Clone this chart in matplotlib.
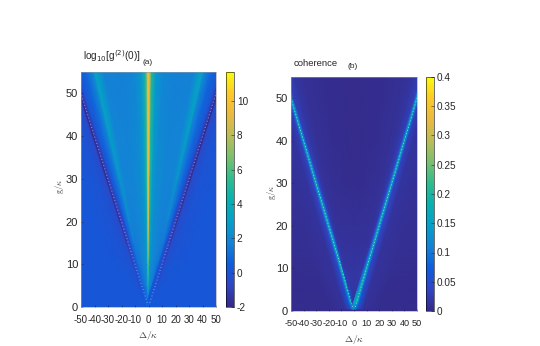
import numpy as np
import matplotlib
matplotlib.use("Agg")
import matplotlib.pyplot as plt
from matplotlib.colors import LinearSegmentedColormap

plt.rcParams['font.family'] = ['Liberation Sans', 'DejaVu Sans']
plt.rcParams['mathtext.fontset'] = 'cm'
plt.rcParams['axes.unicode_minus'] = False

W, H = 540, 346

# parula like colormap
parula = LinearSegmentedColormap.from_list("parula", [
    "#352a87", "#3145c4", "#0f5cdd", "#1481d6", "#069fc9", "#07b0b1",
    "#2fbc8f", "#7abf70", "#b9bd58", "#e9ba42", "#fdc82a", "#f9fb0e"])

# rows of the heat maps
g_rows = [0.5, 2, 5, 10, 15, 20, 30, 40, 50, 55]

# columns: |delta| = ratio * g + offset
col_ratio = [0, .015, .04, .1, .2, .4, .6, .69, .72, .75, .85, 1, 1, 1, 1, 1, 1, 1, 1]
col_offset = [0, 0, 0, 0, 0, 0, 0, 0, 0, 0, 0, -2.2, -.8, 0, 0.9, 2.2, 7, 20, 70]

# log10 g2 (one half, the map is mirrored about delta=0)
g2_left = [
    [1.0, 1.0, 1.0, 1.0, 1.0, 1.0, 1.0, 1.0, 1.0, 1.0, 1.0, 0.9, 0.8, 0.7, 0.6, 0.4, 0.3, 0.2, 0.2],
    [4.5, 3.6, 2.6, 1.8, 1.4, 1.1, 0.9, 0.8, 0.7, 0.6, 0.5, 0.4, 0.3, 0.5, 0.2, 0.2, 0.2, 0.2, 0.2],
    [7.0, 6.2, 4.2, 2.6, 2.0, 1.6, 1.2, 1.0, 0.9, 0.8, 0.7, 0.4, 0.0, 0.4, -0.2, 0.0, 0.2, 0.2, 0.2],
    [8.2, 7.6, 4.6, 2.8, 2.2, 1.8, 1.4, 1.3, 1.2, 1.1, 0.8, 0.3, -0.3, 0.0, -0.8, -0.1, 0.1, 0.2, 0.2],
    [8.8, 8.2, 4.8, 2.8, 2.2, 1.9, 1.6, 1.6, 1.6, 1.3, 0.9, 0.2, -0.6, -0.4, -1.2, -0.3, 0.0, 0.2, 0.2],
    [9.1, 8.4, 4.9, 2.8, 2.2, 1.9, 1.7, 2.0, 2.0, 1.5, 0.9, 0.1, -0.8, -0.7, -1.5, -0.4, 0.0, 0.2, 0.2],
    [9.3, 8.6, 5.0, 2.8, 2.2, 1.9, 1.9, 2.5, 2.6, 1.8, 0.9, 0.0, -1.0, -0.9, -1.8, -0.5, 0.0, 0.2, 0.2],
    [9.4, 8.7, 5.0, 2.8, 2.1, 1.8, 1.9, 2.8, 3.1, 2.0, 0.9, 0.0, -1.1, -1.0, -1.9, -0.5, 0.0, 0.2, 0.2],
    [9.5, 8.8, 5.0, 2.7, 2.0, 1.7, 1.8, 2.9, 3.4, 2.0, 0.8, 0.0, -1.2, -1.0, -1.9, -0.5, 0.0, 0.2, 0.2],
    [9.5, 8.8, 5.0, 2.7, 2.0, 1.7, 1.8, 2.9, 3.5, 2.0, 0.8, 0.0, -1.2, -1.0, -1.9, -0.5, 0.0, 0.2, 0.2],
]

# coherence, same rows and columns
coh_right = [
    [.10, .10, .10, .10, .10, .10, .10, .10, .10, .10, .10, .10, .10, .10, .08, .04, .012, .006, .004],
    [.015, .015, .015, .015, .02, .03, .05, .07, .08, .09, .12, .16, .17, .18, .15, .07, .012, .006, .004],
    [.018, .018, .018, .018, .018, .02, .025, .03, .035, .04, .06, .10, .16, .19, .14, .05, .014, .006, .004],
    [.016, .016, .016, .016, .016, .016, .017, .018, .02, .022, .03, .055, .13, .19, .12, .045, .014, .007, .004],
    [.013, .013, .013, .013, .013, .013, .014, .015, .016, .017, .022, .045, .12, .19, .11, .04, .014, .008, .005],
    [.010, .010, .010, .010, .010, .010, .011, .012, .013, .015, .019, .04, .12, .19, .11, .04, .015, .009, .006],
    [.005, .005, .005, .005, .006, .007, .009, .010, .011, .012, .017, .035, .11, .19, .11, .035, .015, .010, .008],
    [.004, .004, .004, .004, .005, .006, .008, .009, .010, .011, .016, .03, .11, .18, .10, .03, .015, .011, .009],
    [.004, .004, .004, .004, .005, .006, .008, .009, .010, .011, .016, .03, .11, .18, .10, .03, .015, .011, .009],
    [.004, .004, .004, .004, .005, .006, .008, .009, .010, .011, .016, .03, .11, .18, .10, .03, .015, .011, .009],
]

delta_ticks = [-50, -40, -30, -20, -10, 0, 10, 20, 30, 40, 50]
g_ticks = [0, 10, 20, 30, 40, 50]
g2_cbar_ticks = [-2, 0, 2, 4, 6, 8, 10]
coh_cbar_ticks = [0, .05, .1, .15, .2, .25, .3, .35, .4]
coh_cbar_labels = ['0', '0.05', '0.1', '0.15', '0.2', '0.25', '0.3', '0.35', '0.4']
ridge_g = [1, 55]


def px_axes(fig, x0, y0, x1, y1):
    return fig.add_axes([x0 / W, 1 - y1 / H, (x1 - x0) / W, (y1 - y0) / H])


def px_text(fig, x, y, s, **kw):
    fig.text(x / W, 1 - y / H, s, ha=kw.pop('ha', 'center'), va='center', **kw)


def heat(ax, cax, rows, vmin, vmax, dot_color, dot_alpha, xsize):
    ratio = np.array(col_ratio)
    off = np.array(col_offset)
    g = np.array(g_rows)
    half = np.outer(g, ratio) + off
    X = np.hstack([-half[:, :0:-1], half])
    vals = np.array(rows)
    C = np.hstack([vals[:, :0:-1], vals])
    Y = np.repeat(g[:, None], X.shape[1], axis=1)
    m = ax.pcolormesh(X, Y, C, cmap=parula, vmin=vmin, vmax=vmax, shading='gouraud', rasterized=True)
    ax.set_facecolor(parula((rows[0][-1] - vmin) / (vmax - vmin)))
    for s in (-1, 1):
        ax.plot([s * v for v in ridge_g], ridge_g, ls=(0, (1, 3)), lw=0.6, color=dot_color, alpha=dot_alpha)
    ax.set_xlim(-50, 50)
    ax.set_ylim(0, 55)
    ax.set_xticks(delta_ticks)
    ax.set_yticks(g_ticks)
    ax.tick_params(direction='in', length=1.5, width=0.4, pad=2, colors='#262626')
    ax.tick_params(axis='x', labelsize=xsize, pad=5.5)
    ax.tick_params(axis='y', labelsize=8)
    for sp in ax.spines.values():
        sp.set_linewidth(0.4)
        sp.set_color('#9a9aa8')
    cb = fig.colorbar(m, cax=cax)
    cb.outline.set_linewidth(0.4)
    cb.ax.tick_params(direction='in', length=2, width=0.4, labelsize=7.2, pad=2, colors='#262626')
    return cb


fig = plt.figure(figsize=(W / 100, H / 100), dpi=100)

ax1 = px_axes(fig, 81, 72, 216, 307)
cax1 = px_axes(fig, 226, 72, 234, 307)
cb1 = heat(ax1, cax1, g2_left, -2, 11.7, 'white', 0.6, 7)
cb1.set_ticks(g2_cbar_ticks)

ax2 = px_axes(fig, 291, 77, 417, 311)
cax2 = px_axes(fig, 426, 77, 434, 311)
cb2 = heat(ax2, cax2, coh_right, 0, 0.4, '#d8f0e0', 0.8, 6.6)
cb2.set_ticks(coh_cbar_ticks)
cb2.set_ticklabels(coh_cbar_labels)

px_text(fig, 83, 56, r'log$_{10}$[g$^{(2)}$(0)]', ha='left', fontsize=7.2, color='#262626',
        math_fontfamily='dejavusans')
px_text(fig, 148, 62, '(a)', fontsize=6, color='#262626')
px_text(fig, 294, 64, 'coherence', ha='left', fontsize=6.8, color='#262626')
px_text(fig, 353, 67, '(b)', fontsize=6, color='#262626')
px_text(fig, 148, 335, r'$\Delta/\kappa$', fontsize=7, color='#444444')
px_text(fig, 354, 339, r'$\Delta/\kappa$', fontsize=7, color='#444444')
px_text(fig, 60, 187, r'$\mathrm{g}/\kappa$', fontsize=6, rotation=90, color='#444444')
px_text(fig, 271, 193, r'$\mathrm{g}/\kappa$', fontsize=6, rotation=90, color='#444444')

fig.savefig("out.png", dpi=100)
